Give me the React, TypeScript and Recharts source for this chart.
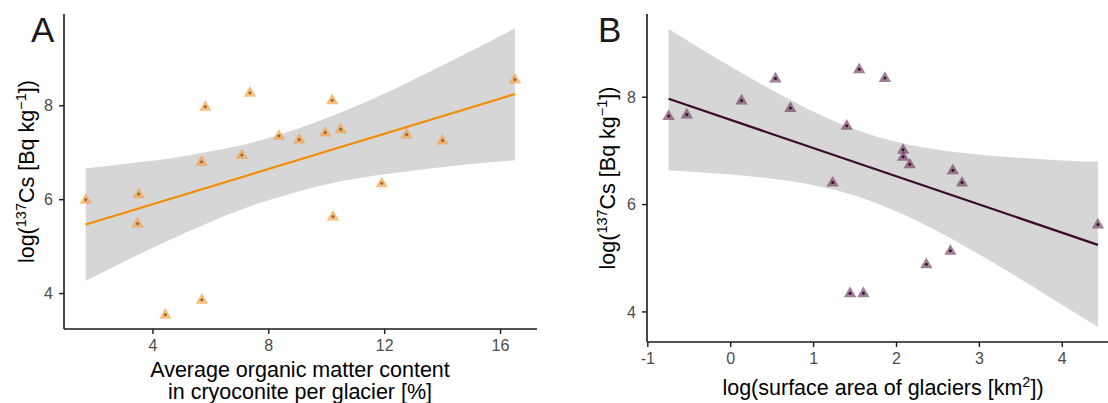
import React from 'react';
import { ComposedChart, Scatter, Line, Area, XAxis, YAxis } from 'recharts';

// Panel A: organic matter content vs log(137Cs)
const organicX = [1.68, 3.51, 3.47, 4.43, 5.69, 5.68, 5.81, 7.07, 7.35, 8.35, 9.05, 9.95, 10.19, 10.48, 10.22, 11.9, 12.76, 14.0, 16.5];
const cesiumA = [6.0, 6.12, 5.49, 3.55, 3.87, 6.81, 7.98, 6.95, 8.28, 7.36, 7.28, 7.43, 8.12, 7.5, 5.64, 6.35, 7.39, 7.26, 8.56];
const fitAX = [1.68, 16.5];
const fitAY = [5.47, 8.25];
const bandAX = [1.68, 3, 4.5, 6, 7.5, 9, 10.5, 12, 13.5, 15, 16.5];
const bandALow = [4.27, 4.68, 5.12, 5.53, 5.89, 6.17, 6.39, 6.54, 6.66, 6.76, 6.84];
const bandAHigh = [6.67, 6.76, 6.87, 7.03, 7.23, 7.51, 7.86, 8.26, 8.71, 9.17, 9.65];
const ticksAX = [4, 8, 12, 16];
const ticksAY = [4, 6, 8];

// Panel B: log(surface area) vs log(137Cs)
const areaX = [-0.75, -0.53, 0.13, 0.54, 0.72, 1.23, 1.4, 1.55, 1.44, 1.6, 1.86, 2.08, 2.08, 2.16, 2.36, 2.65, 2.68, 2.79, 4.43];
const cesiumB = [7.65, 7.68, 7.94, 8.35, 7.8, 6.41, 7.47, 8.52, 4.35, 4.35, 8.36, 7.02, 6.89, 6.75, 4.89, 5.14, 6.64, 6.41, 5.63];
const fitBX = [-0.75, 4.43];
const fitBY = [7.97, 5.25];
const bandBX = [-0.75, 0, 0.5, 1, 1.5, 2, 2.5, 3, 3.5, 4, 4.43];
const bandBLow = [6.64, 6.56, 6.48, 6.36, 6.17, 5.87, 5.5, 5.07, 4.61, 4.13, 3.72];
const bandBHigh = [9.27, 8.57, 8.13, 7.73, 7.4, 7.17, 7.02, 6.93, 6.87, 6.82, 6.8];
const ticksBX = [-1, 0, 1, 2, 3, 4];
const ticksBY = [4, 6, 8];

const pointsA = organicX.map((x, i) => ({ x, y: cesiumA[i] }));
const fitA = fitAX.map((x, i) => ({ x, y: fitAY[i] }));
const bandA = bandAX.map((x, i) => ({ x, band: [bandALow[i], bandAHigh[i]] }));
const pointsB = areaX.map((x, i) => ({ x, y: cesiumB[i] }));
const fitB = fitBX.map((x, i) => ({ x, y: fitBY[i] }));
const bandB = bandBX.map((x, i) => ({ x, band: [bandBLow[i], bandBHigh[i]] }));

const FONT = '"Liberation Sans", Arial, sans-serif';
const axisLine = { stroke: '#1a1a1a', strokeWidth: 1.6 };
const tickLine = { stroke: '#1a1a1a', strokeWidth: 1.4 };
const tickStyle = { fill: '#4d4d4d', fontSize: 16, fontFamily: FONT };

const makeTri = (fill: string, opacity: number, dot: string) => (props: any) => {
  const { cx, cy } = props;
  if (cx == null || cy == null) return <g />;
  return (
    <g>
      <path
        d={`M${cx},${cy - 6.6}L${cx + 6.2},${cy + 4}L${cx - 6.2},${cy + 4}Z`}
        fill={fill}
        fillOpacity={opacity}
      />
      <circle cx={cx} cy={cy} r={1.5} fill={dot} />
    </g>
  );
};

const triA = makeTri('#F29B38', 0.65, '#9A6430');
const triB = makeTri('#6E3A60', 0.65, '#3A1030');

function PanelA() {
  return (
    <ComposedChart width={560} height={403} margin={{ top: 14, right: 23, bottom: 44, left: 24 }} data={bandA}>
      <XAxis type="number" dataKey="x" domain={[0.93, 17.26]} ticks={ticksAX} allowDataOverflow height={30}
        axisLine={axisLine} tickLine={tickLine} tickSize={5} tickMargin={6} tick={tickStyle} />
      <YAxis type="number" domain={[3.245, 9.955]} ticks={ticksAY} allowDataOverflow width={40}
        axisLine={axisLine} tickLine={tickLine} tickSize={5} tickMargin={6} tick={tickStyle} />
      <Area type="monotone" dataKey="band" stroke="none" fill="#D6D6D6" fillOpacity={1} isAnimationActive={false} />
      <Line data={fitA} dataKey="y" stroke="#F28C00" strokeWidth={2.2} dot={false} isAnimationActive={false} />
      <Scatter data={pointsA} dataKey="y" shape={triA} isAnimationActive={false} />
    </ComposedChart>
  );
}

function PanelB() {
  return (
    <ComposedChart width={600} height={403} margin={{ top: 14, right: 40.5, bottom: 31, left: 47 }} data={bandB}>
      <XAxis type="number" dataKey="x" domain={[-1.01, 4.69]} ticks={ticksBX} allowDataOverflow height={30}
        axisLine={axisLine} tickLine={tickLine} tickSize={5} tickMargin={6} tick={tickStyle} />
      <YAxis type="number" domain={[3.44, 9.55]} ticks={ticksBY} allowDataOverflow width={40}
        axisLine={axisLine} tickLine={tickLine} tickSize={5} tickMargin={6} tick={tickStyle} />
      <Area type="monotone" dataKey="band" stroke="none" fill="#D6D6D6" fillOpacity={1} isAnimationActive={false} />
      <Line data={fitB} dataKey="y" stroke="#3B0A2C" strokeWidth={2.2} dot={false} isAnimationActive={false} />
      <Scatter data={pointsB} dataKey="y" shape={triB} isAnimationActive={false} />
    </ComposedChart>
  );
}

export default function App() {
  return (
    <div style={{ position: 'absolute', left: 0, top: 0, width: 1108, height: 403, overflow: 'hidden', background: '#fff' }}>
      <div style={{ position: 'absolute', left: 0, top: 0 }}>
        <PanelA />
      </div>
      <div style={{ position: 'absolute', left: 560, top: 0 }}>
        <PanelB />
      </div>
      <svg width={1108} height={403} style={{ position: 'absolute', left: 0, top: 0, pointerEvents: 'none' }} fontFamily={FONT}>
        <text x={31} y={42} fontSize={35} fill="#1a1a1a">A</text>
        <text x={598} y={42} fontSize={35} fill="#1a1a1a">B</text>
        <text transform="translate(34,171.6) rotate(-90)" textAnchor="middle" fontSize={21.5} fill="#000">
          log(<tspan dy={-8} fontSize={14.5}>137</tspan><tspan dy={8}>Cs [Bq kg</tspan><tspan dy={-8} fontSize={14.5}>−1</tspan><tspan dy={8}>])</tspan>
        </text>
        <text transform="translate(615,178) rotate(-90)" textAnchor="middle" fontSize={21.5} fill="#000">
          log(<tspan dy={-8} fontSize={14.5}>137</tspan><tspan dy={8}>Cs [Bq kg</tspan><tspan dy={-8} fontSize={14.5}>−1</tspan><tspan dy={8}>])</tspan>
        </text>
        <text x={300} y={377} textAnchor="middle" fontSize={21.5} fill="#000">Average organic matter content</text>
        <text x={300} y={399} textAnchor="middle" fontSize={21.5} fill="#000">in cryoconite per glacier [%]</text>
        <text x={883} y={395} textAnchor="middle" fontSize={21.5} fill="#000">
          log(surface area of glaciers [km<tspan dy={-8} fontSize={14.5}>2</tspan><tspan dy={8}>])</tspan>
        </text>
      </svg>
    </div>
  );
}
